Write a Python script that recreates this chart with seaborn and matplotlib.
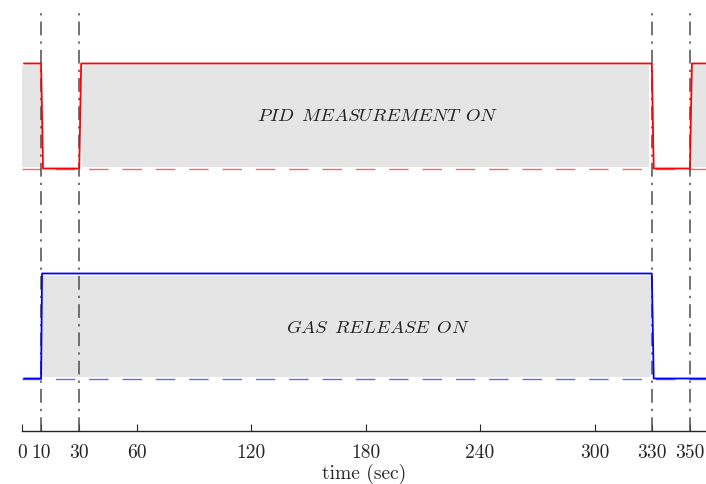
import matplotlib
matplotlib.use('Agg')
import matplotlib.pyplot as plt
import numpy as np
import pandas as pd
import seaborn as sns

# signals (time in sec, state 0/1)
t_pid = [1, 10, 11, 30, 31, 330, 331, 350, 351, 360]
pid_state = [1, 1, 0, 0, 1, 1, 0, 0, 1, 1]
t_gas = [1, 10, 10.5, 330, 331, 360]
gas_state = [0, 0, 1, 1, 0, 0]

# periods where the gray box is drawn
pid_on = [(0, 10), (31.3, 328.5), (351.2, 360)]
gas_on = [(10.6, 329.4)]

events = [10, 30, 330, 350]
xticks = [0, 10, 30, 60, 120, 180, 240, 300, 330, 350]

pid_words = ['PID', 'MEASUREMENT', 'ON']
gas_words = ['GAS', 'RELEASE', 'ON']

sns.set_theme(style='white')
plt.rcParams['font.family'] = 'serif'
plt.rcParams['font.serif'] = ['cmr10', 'DejaVu Serif']
plt.rcParams['mathtext.fontset'] = 'cm'
plt.rcParams['axes.formatter.use_mathtext'] = True

pid_offset = 2.0
df_pid = pd.DataFrame({'t': t_pid, 'y': np.array(pid_state) + pid_offset})
df_gas = pd.DataFrame({'t': t_gas, 'y': np.array(gas_state, dtype=float)})


def italic(words):
    return r'$\mathit{' + r'\ \,'.join(words) + '}$'


fig = plt.figure(figsize=(7.06, 4.85), dpi=100)
ax = fig.add_axes([22 / 706, 53 / 485, 1 - 22 / 706, 420 / 485])

gray = '#e5e5e5'
for a, b in pid_on:
    ax.fill_between([a, b], pid_offset + 0.015, pid_offset + 0.98,
                    color=gray, lw=0, zorder=0)
for a, b in gas_on:
    ax.fill_between([a, b], 0.015, 0.98, color=gray, lw=0, zorder=0)

# baselines
ax.axhline(pid_offset, color='#ff0000', alpha=0.6, lw=1.0,
           dashes=(14, 10), zorder=1)
ax.axhline(0, color='#0000ff', alpha=0.6, lw=1.0, dashes=(14, 10), zorder=1)

sns.lineplot(data=df_pid, x='t', y='y', color='#ff0000', lw=1.3,
             estimator=None, sort=False, ax=ax, zorder=3)
sns.lineplot(data=df_gas, x='t', y='y', color='#0000ff', lw=1.3,
             estimator=None, sort=False, ax=ax, zorder=3)

for e in events:
    ax.axvline(e, color='#4d4d4d', lw=1.1, dashes=(9, 4, 1.5, 4), zorder=2)

ax.text(186.5, pid_offset + 0.51, italic(pid_words),
        ha='center', va='center', fontsize=13.5, color='#222222')
ax.text(186.5, 0.49, italic(gas_words),
        ha='center', va='center', fontsize=13.5, color='#222222')

ax.set_xlim(0, 358.4)
ax.set_ylim(-0.5, 3.5)
ax.set_xticks(xticks)
ax.set_xticklabels([str(v) for v in xticks])
ax.set_yticks([])
ax.set_xlabel('time (sec)', fontsize=14, labelpad=1)
ax.set_ylabel('')
ax.tick_params(axis='x', direction='in', length=5, width=0.8,
               colors='#262626', labelsize=14, pad=9, bottom=True)

for side in ['top', 'right', 'left']:
    ax.spines[side].set_visible(False)
ax.spines['bottom'].set_color('#262626')
ax.spines['bottom'].set_linewidth(1.0)

fig.savefig('out.png', dpi=100)
